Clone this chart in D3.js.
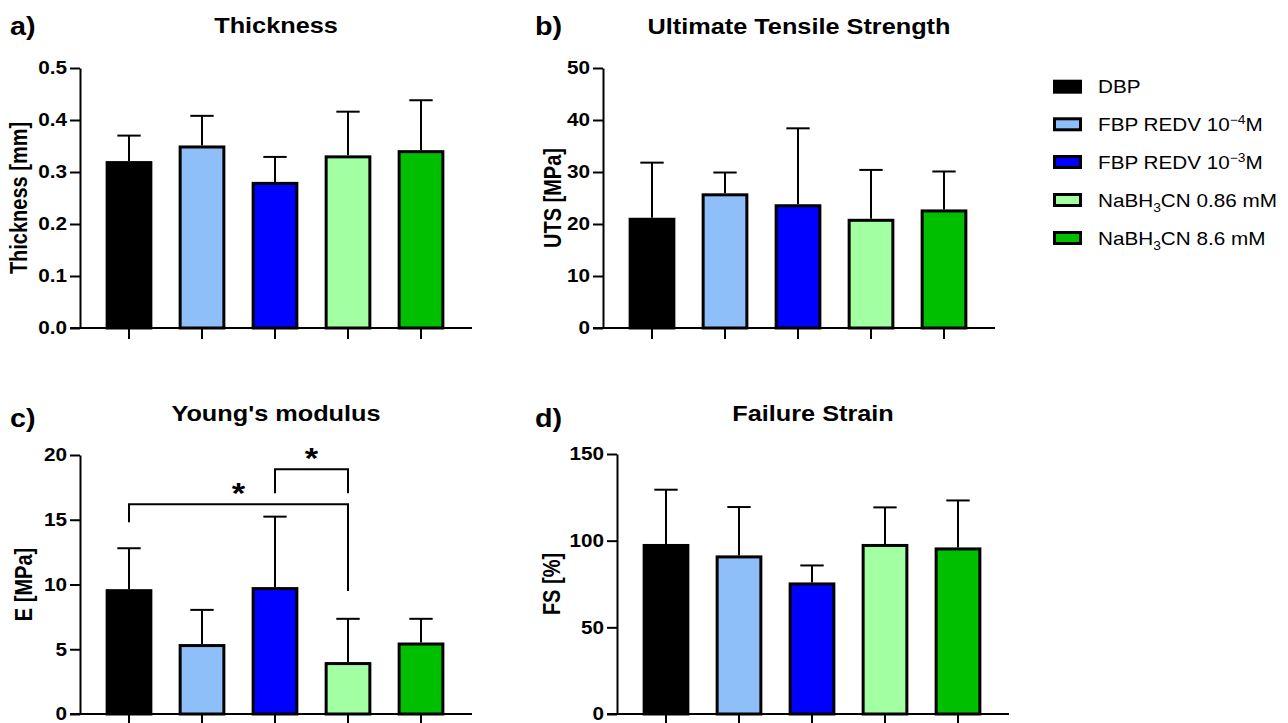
<!DOCTYPE html>
<html>
<head>
<meta charset="utf-8">
<script src="https://cdn.jsdelivr.net/npm/d3@7"></script>
<style>
  body { margin: 0; background: #fff; }
  svg { display: block; font-family: "Liberation Sans", Arial, sans-serif; }
</style>
</head>
<body>
<svg id="chart" width="1288" height="723"></svg>
<script>
// groups and colours
var groups = ['DBP', 'FBP REDV 1e-4', 'FBP REDV 1e-3', 'NaBH3CN 0.86', 'NaBH3CN 8.6'];
var colors = ['#000000', '#8fbff8', '#0000ff', '#a2ffa2', '#00bf00'];

// values (mean, SD)
var thicknessMean = [0.321, 0.351, 0.281, 0.332, 0.342];
var thicknessSD   = [0.049, 0.057, 0.048, 0.084, 0.096];
var utsMean = [21.2, 25.9, 23.8, 21.0, 22.8];
var utsSD   = [10.6, 4.0, 14.6, 9.4, 7.3];
var modulusMean = [9.64, 5.4, 9.8, 4.01, 5.52];
var modulusSD   = [3.16, 2.64, 5.44, 3.34, 1.83];
var strainMean = [98.1, 91.5, 75.9, 98.1, 96.1];
var strainSD   = [31.3, 27.9, 9.8, 21.1, 27.1];

var thicknessTicks = [0, 0.1, 0.2, 0.3, 0.4, 0.5];
var utsTicks = [0, 10, 20, 30, 40, 50];
var modulusTicks = [0, 5, 10, 15, 20];
var strainTicks = [0, 50, 100, 150];

// significance brackets on panel c: [from, to, height, left leg end, right leg end]
var modulusSig = [
	[0, 3, 16.2, 14.8, 9.5],
	[2, 3, 18.9, 17.05, 17.05]
];

var SX = 1.15; // the picture is a bit stretched sideways

var svg = d3.select('#chart');

function stretch(x, y, rot) {
	return 'translate(' + x + ',' + y + ') scale(' + SX + ',1)' + (rot ? ' rotate(' + rot + ')' : '');
}

var panels = [
	{ letter: 'a)', title: 'Thickness', ylabel: 'Thickness [mm]', mean: thicknessMean, sd: thicknessSD,
	  ticks: thicknessTicks, fmt: d3.format('.1f'), ax: 80, top: 68, bottom: 328, lx: 10, ly: 35, ty: 33, yl: 27 },
	{ letter: 'b)', title: 'Ultimate Tensile Strength', ylabel: 'UTS [MPa]', mean: utsMean, sd: utsSD,
	  ticks: utsTicks, fmt: d3.format('d'), ax: 603, top: 68, bottom: 328, lx: 535, ly: 35, ty: 34, yl: 561 },
	{ letter: 'c)', title: "Young's modulus", ylabel: 'E [MPa]', mean: modulusMean, sd: modulusSD,
	  ticks: modulusTicks, fmt: d3.format('d'), ax: 80, top: 455, bottom: 714, lx: 10, ly: 427, ty: 421, yl: 32, sig: modulusSig },
	{ letter: 'd)', title: 'Failure Strain', ylabel: 'FS [%]', mean: strainMean, sd: strainSD,
	  ticks: strainTicks, fmt: d3.format('d'), ax: 617, top: 454, bottom: 714, lx: 535, ly: 427, ty: 421, yl: 560 }
];

var axisLen = 392;

panels.forEach(function (p) {
	var g = svg.append('g');
	var domainMax = p.ticks[p.ticks.length - 1];

	var y = d3.scaleLinear().domain([0, domainMax]).range([p.bottom, p.top]);
	var x = d3.scaleBand().domain(groups)
		.range([p.ax + 12.5, p.ax + 377.5])
		.paddingInner(0.36).paddingOuter(0.18);

	// bars
	g.selectAll('rect.bar').data(groups).enter().append('rect')
		.attr('class', 'bar')
		.attr('x', function (d) { return x(d) + 1.5; })
		.attr('width', x.bandwidth() - 3)
		.attr('y', function (d, i) { return y(p.mean[i]) + 1.5; })
		.attr('height', function (d, i) { return y(0) - y(p.mean[i]) - 1.5; })
		.attr('fill', function (d, i) { return colors[i]; })
		.attr('stroke', '#000')
		.attr('stroke-width', 3);

	// upper error bars
	var cap = x.bandwidth() / 2;
	var eb = g.selectAll('g.err').data(groups).enter().append('g').attr('class', 'err');
	eb.append('line')
		.attr('x1', function (d) { return x(d) + x.bandwidth() / 2; })
		.attr('x2', function (d) { return x(d) + x.bandwidth() / 2; })
		.attr('y1', function (d, i) { return y(p.mean[i]); })
		.attr('y2', function (d, i) { return y(p.mean[i] + p.sd[i]); });
	eb.append('line')
		.attr('x1', function (d) { return x(d) + x.bandwidth() / 2 - cap / 2; })
		.attr('x2', function (d) { return x(d) + x.bandwidth() / 2 + cap / 2; })
		.attr('y1', function (d, i) { return y(p.mean[i] + p.sd[i]); })
		.attr('y2', function (d, i) { return y(p.mean[i] + p.sd[i]); });
	eb.selectAll('line').attr('stroke', '#000').attr('stroke-width', 2);

	// y axis
	var yAxis = g.append('g').attr('transform', 'translate(' + p.ax + ',0)')
		.call(d3.axisLeft(y).tickValues(p.ticks).tickFormat(p.fmt).tickSize(10).tickSizeOuter(0));
	yAxis.select('.domain').attr('stroke-width', 2);
	yAxis.selectAll('.tick line').attr('stroke-width', 2);
	yAxis.selectAll('.tick text')
		.attr('x', 0)
		.attr('transform', stretch(-13, 0))
		.attr('font-size', 18)
		.attr('font-weight', 'bold')
		.attr('fill', '#000');

	// x axis: line plus ticks at band centres
	g.append('line')
		.attr('x1', p.ax - 10).attr('x2', p.ax + axisLen)
		.attr('y1', y(0)).attr('y2', y(0))
		.attr('stroke', '#000').attr('stroke-width', 2);
	g.selectAll('line.xt').data(groups).enter().append('line')
		.attr('class', 'xt')
		.attr('x1', function (d) { return x(d) + x.bandwidth() / 2; })
		.attr('x2', function (d) { return x(d) + x.bandwidth() / 2; })
		.attr('y1', y(0)).attr('y2', y(0) + 11)
		.attr('stroke', '#000').attr('stroke-width', 2);

	// texts
	g.append('text').text(p.letter)
		.attr('transform', stretch(p.lx, p.ly))
		.attr('font-size', 25).attr('font-weight', 'bold');
	g.append('text').text(p.title)
		.attr('transform', stretch(p.ax + axisLen / 2, p.ty))
		.attr('text-anchor', 'middle')
		.attr('font-size', 22).attr('font-weight', 'bold');
	g.append('text').text(p.ylabel)
		.attr('transform', stretch(p.yl, (p.top + p.bottom) / 2, -90))
		.attr('text-anchor', 'middle')
		.attr('font-size', 20).attr('font-weight', 'bold');

	// significance brackets
	if (p.sig) {
		p.sig.forEach(function (s) {
			var xa = x(groups[s[0]]) + x.bandwidth() / 2,
				xb = x(groups[s[1]]) + x.bandwidth() / 2;
			var path = d3.path();
			path.moveTo(xa, y(s[3]));
			path.lineTo(xa, y(s[2]));
			path.lineTo(xb, y(s[2]));
			path.lineTo(xb, y(s[4]));
			g.append('path').attr('d', path.toString())
				.attr('fill', 'none').attr('stroke', '#000').attr('stroke-width', 2);
			g.append('text').text('*')
				.attr('transform', stretch((xa + xb) / 2, y(s[2]) - 1))
				.attr('text-anchor', 'middle')
				.attr('font-size', 30).attr('font-weight', 'bold');
		});
	}
});

// legend
var legendRows = [86.7, 124.3, 162, 200, 238];
var legend = svg.append('g');
groups.forEach(function (d, i) {
	legend.append('rect')
		.attr('x', 1054.5).attr('y', legendRows[i] - 5.5)
		.attr('width', 26).attr('height', 11)
		.attr('fill', colors[i]).attr('stroke', '#000').attr('stroke-width', 3);
});

function legendText(i) {
	return legend.append('text')
		.attr('transform', stretch(1098, legendRows[i] + 6.5))
		.attr('font-size', 18).attr('fill', '#000');
}
legendText(0).text('DBP');
var t1 = legendText(1);
t1.append('tspan').text('FBP REDV 10');
t1.append('tspan').text('\u22124').attr('font-size', 12).attr('dy', -7);
t1.append('tspan').text('M').attr('dy', 7);
var t2 = legendText(2);
t2.append('tspan').text('FBP REDV 10');
t2.append('tspan').text('\u22123').attr('font-size', 12).attr('dy', -7);
t2.append('tspan').text('M').attr('dy', 7);
var t3 = legendText(3);
t3.append('tspan').text('NaBH');
t3.append('tspan').text('3').attr('font-size', 12).attr('dy', 5);
t3.append('tspan').text('CN 0.86 mM').attr('dy', -5);
var t4 = legendText(4);
t4.append('tspan').text('NaBH');
t4.append('tspan').text('3').attr('font-size', 12).attr('dy', 5);
t4.append('tspan').text('CN 8.6 mM').attr('dy', -5);
</script>
</body>
</html>
